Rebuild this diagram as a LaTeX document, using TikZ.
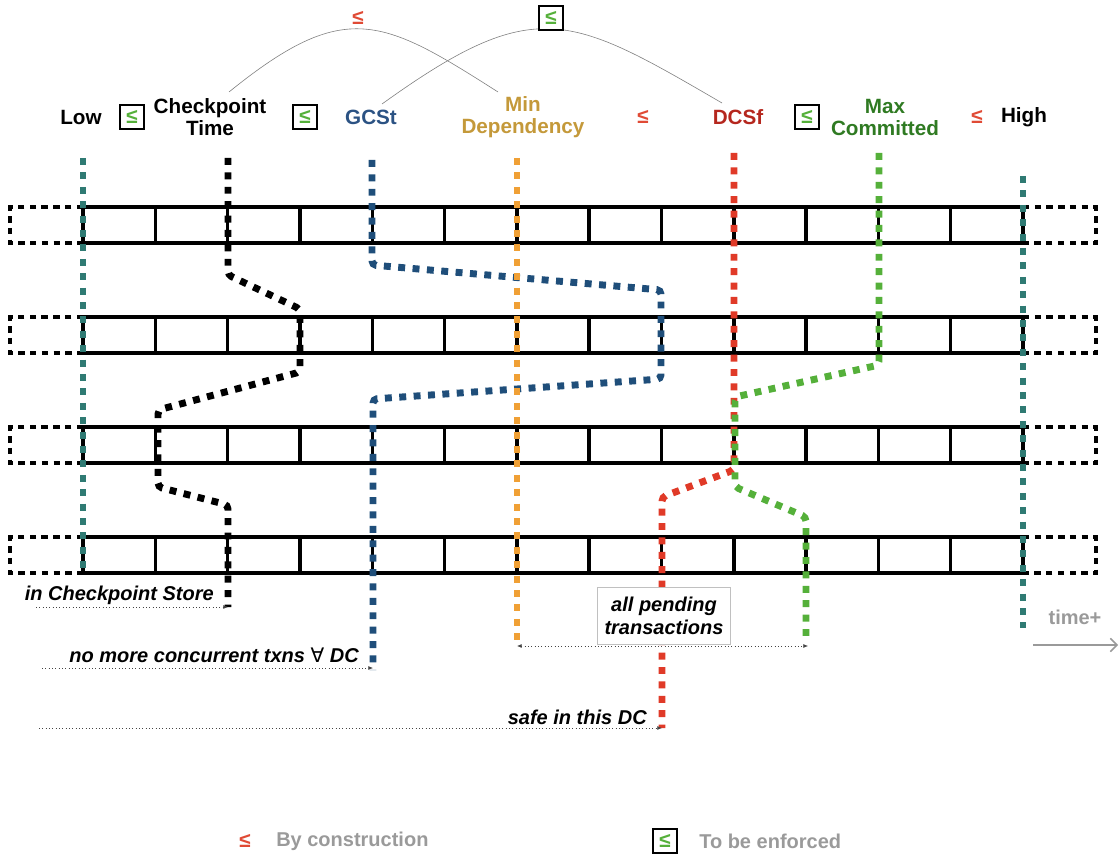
\documentclass[tikz,border=0pt]{standalone}
\usepackage{fontspec}
\setmainfont{Liberation Sans}
\newfontfamily\symfont{DejaVu Sans}
\usetikzlibrary{arrows.meta}
\definecolor{tealL}{HTML}{2F7A73}
\definecolor{blueL}{HTML}{1F4E7A}
\definecolor{orangeL}{HTML}{F0A035}
\definecolor{redL}{HTML}{E03A28}
\definecolor{greenL}{HTML}{55B03A}
\definecolor{blueT}{HTML}{2B5283}
\definecolor{goldT}{HTML}{C4993A}
\definecolor{redT}{HTML}{B5271E}
\definecolor{greenT}{HTML}{2F7A22}
\definecolor{leqred}{HTML}{E04A35}
\definecolor{leqgreen}{HTML}{55B03A}
\definecolor{legendgray}{HTML}{9A9A9A}
\definecolor{boxgray}{HTML}{C0C0C0}
\definecolor{ptrgray}{HTML}{444444}
\begin{document}
\begin{tikzpicture}[x=0.75pt,y=-0.75pt,
  cell/.style={line width=2.6pt, black},
  ghost/.style={line width=2.6pt, black, dash pattern=on 4.8pt off 4pt},
  track/.style={line width=5.2pt, dash pattern=on 5.2pt off 5.6pt, rounded corners=3pt},
  lbl/.style={font=\fontsize{15.5}{16.5}\selectfont\bfseries, align=center, inner sep=0pt},
  leq/.style={font=\fontsize{15.5}{16}\selectfont\bfseries, text=leqred, inner sep=0pt},
  enf/.style={draw=black, line width=1.5pt, fill=white, minimum width=18pt, minimum height=18.5pt, inner sep=0pt, text=leqgreen, font=\fontsize{15.5}{16}\selectfont\bfseries},
  note/.style={font=\fontsize{15}{17}\selectfont\bfseries\itshape, inner sep=0pt},
  pointer/.style={line width=0.5pt, ptrgray, dotted, -{Latex[length=3.5pt,width=3pt]}},
  arcline/.style={gray, line width=0.45pt},
  legend/.style={font=\fontsize{15}{16}\selectfont\bfseries, text=legendgray, inner sep=0pt}
]
\useasboundingbox (0,0) rectangle (1119,855);

% ---- rows of log cells
\foreach \r in {207,317,427,537} {
  \draw[cell] (83,\r) rectangle (1023,\r+36);
  \foreach \k in {1,...,12} \draw[cell] (83+\k*72.3077,\r) -- ++(0,36);
  \draw[ghost] (83,\r) -- (10,\r) -- (10,\r+36) -- (83,\r+36);
  \draw[ghost] (1023,\r) -- (1096,\r) -- (1096,\r+36) -- (1023,\r+36);
}

% ---- track corner coordinates
\coordinate (lo0) at (83,158);   \coordinate (lo1) at (83,575);
\coordinate (hi0) at (1023,176); \coordinate (hi1) at (1023,628);
\coordinate (ck0) at (228,158); \coordinate (ck1) at (228,275); \coordinate (ck2) at (300,309);
\coordinate (ck3) at (300,372); \coordinate (ck4) at (158,410); \coordinate (ck5) at (158,487);
\coordinate (ck6) at (228,505); \coordinate (ck7) at (228,607);
\coordinate (gc0) at (372,160); \coordinate (gc1) at (372,265); \coordinate (gc2) at (661,290);
\coordinate (gc3) at (661,379); \coordinate (gc4) at (373,399); \coordinate (gc5) at (373,670);
\coordinate (md0) at (517,158); \coordinate (md1) at (517,640);
\coordinate (dc0) at (734,153); \coordinate (dc1) at (734,470); \coordinate (dc2) at (662,497);
\coordinate (dc3) at (662,728);
\coordinate (mc0) at (879,153); \coordinate (mc1) at (879,365); \coordinate (mc2) at (735,397);
\coordinate (mc3) at (735,487); \coordinate (mc4) at (806,517); \coordinate (mc5) at (806,640);

% ---- tracks
\draw[track, tealL] (lo0) -- (lo1);
\draw[track, tealL] (hi0) -- (hi1);
\draw[track, black] (ck0) -- (ck1) -- (ck2) -- (ck3) -- (ck4) -- (ck5) -- (ck6) -- (ck7);
\draw[track, blueL] (gc0) -- (gc1) -- (gc2) -- (gc3) -- (gc4) -- (gc5);
\draw[track, orangeL] (md0) -- (md1);
\draw[track, redL] (dc0) -- (dc1) -- (dc2) -- (dc3);
\draw[track, greenL] (mc0) -- (mc1) -- (mc2) -- (mc3) -- (mc4) -- (mc5);

% ---- top labels
\node[lbl] (low) at (81,117) {Low};
\node[enf] (e1) at (132,117) {≤};
\node[lbl] (ckt) at (210,117) {Checkpoint\\Time};
\node[enf] (e2) at (305,117) {≤};
\node[lbl, text=blueT] (gcst) at (371,117) {GCSt};
\node[lbl, text=goldT] (mind) at (523,117) {Min\\Dependency};
\node[leq] (c1) at (643,117) {≤};
\node[lbl, text=redT] (dcsf) at (738,117) {DCSf};
\node[enf] (e3) at (807,117) {≤};
\node[lbl, text=greenT] (maxc) at (885,117) {Max\\Committed};
\node[leq] (c2) at (977,117) {≤};
\node[lbl] (high) at (1024,117) {High};

% ---- arcs over the labels
\coordinate (a1s) at (229,92); \coordinate (a1e) at (498,92);
\coordinate (a2s) at (382,104); \coordinate (a2e) at (722,103);
\draw[arcline] (a1s) .. controls (345,-2) and (382,18) .. (a1e);
\draw[arcline] (a2s) .. controls (535,-6) and (569,14) .. (a2e);
\node[leq] (c3) at (358,18) {≤};
\node[enf] (e4) at (551,18) {≤};

% ---- annotations
\coordinate (p1) at (36,607);
\coordinate (p2) at (42,668);
\coordinate (p3) at (39,728);
\node[note, anchor=east] (t1) at (214,595) {in Checkpoint Store};
\node[note, anchor=east] (t2) at (359,655) {no more concurrent txns {\symfont\mdseries ∀} DC};
\node[note, anchor=east] (t3) at (647,717) {safe in this DC};
\draw[pointer] (p1) -- (ck7);
\draw[pointer] (p2) -- (gc5 |- p2);
\draw[pointer] (p3) -- (dc3);

\node[note, draw=boxgray, line width=0.8pt, fill=white, minimum width=100pt, minimum height=42.5pt, align=center] (pend) at (664,616) {all pending\\transactions};
\coordinate (pl) at (517,646); \coordinate (pr) at (808,646);
\draw[pointer, {Latex[length=3.5pt,width=3pt]}-{Latex[length=3.5pt,width=3pt]}] (pl) -- (pr);

% ---- time axis
\node[legend] (tp) at (1075,617) {time+};
\coordinate (ta) at (1033,645); \coordinate (tb) at (1118,645);
\draw[legendgray, line width=1.1pt, -{Straight Barb[length=5pt,width=10pt]}] (ta) -- (tb);

% ---- legend
\node[leq] (lg1) at (245,841) {≤};
\node[legend, anchor=west] (lg1t) at (276,841) {By construction};
\node[enf] (lg2) at (665,841) {≤};
\node[legend, anchor=west] (lg2t) at (699,841) {To be enforced};
\end{tikzpicture}
\end{document}
